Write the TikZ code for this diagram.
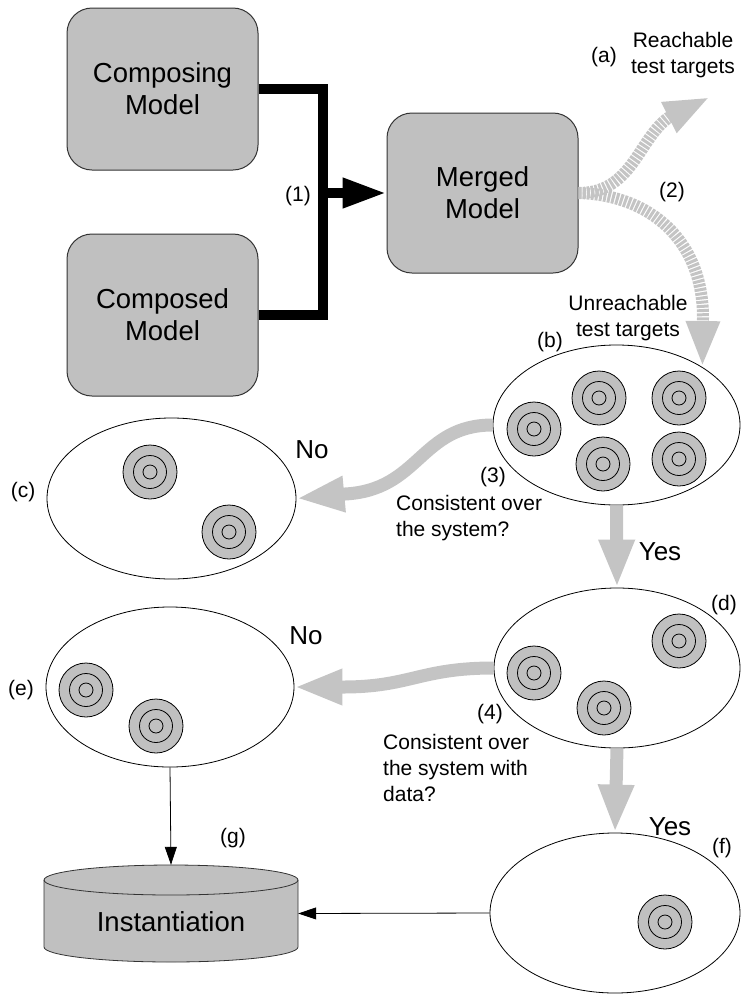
\documentclass[tikz,border=0pt]{standalone}
\usepackage{fontspec}
\setmainfont{Liberation Sans}
\usetikzlibrary{arrows.meta,shapes.geometric}
\definecolor{boxgray}{HTML}{C0C0C0}
\definecolor{arrowgray}{HTML}{C4C4C4}
\definecolor{outl}{HTML}{333333}
\begin{document}
\begin{tikzpicture}[x=1pt,y=-1pt,
  mbox/.style={draw=outl, line width=1pt, fill=boxgray, rounded corners=25pt,
    minimum width=191pt, minimum height=162pt, align=center,
    font=\fontsize{27.5}{32}\selectfont, inner sep=0pt},
  pool/.style={draw=black, line width=0.8pt, fill=white, ellipse, inner sep=0pt},
  lbl/.style={font=\fontsize{21}{26}\selectfont, inner sep=0pt},
  ans/.style={font=\fontsize{26}{30}\selectfont, inner sep=0pt},
  merge/.style={line width=10pt, black},
  gflow/.style={line width=13pt, arrowgray, -{Triangle[length=48pt,width=33pt]}},
  fork/.style={line width=12pt, arrowgray, dash pattern=on 3pt off 1.2pt,
    -{Triangle[length=46pt,width=31pt]}},
  feed/.style={line width=0.8pt, black, -{Triangle[length=18pt,width=12pt]}},
  target/.pic={
    \path[draw=black, line width=0.8pt, fill=boxgray] (0,0) circle[radius=27pt];
    \draw[line width=0.8pt] (0,0) circle[radius=16.5pt];
    \draw[line width=0.8pt] (0,0) circle[radius=7pt];
  }
]
\useasboundingbox (0,0) rectangle (740,994);

% boxes
\node[mbox] (composing) at (162.5,89) {Composing\\Model};
\node[mbox] (composed) at (162.5,315) {Composed\\Model};
\node[mbox, minimum height=160pt] (merged) at (482.5,193) {Merged\\Model};

% merging connector
\coordinate (j) at (323,193);
\draw[merge] (composing.east) -| (j) |- (composed.east);
\draw[merge, -{Triangle[length=44pt,width=28pt]}] (j) -- (merged.west);
\node[lbl] at (298,196) {(1)};

% sets
\node[pool, minimum width=247pt, minimum height=160pt] (b) at (616.5,425) {};
\node[pool, minimum width=249pt, minimum height=161pt] (c) at (171.5,498.5) {};
\node[pool, minimum width=246pt, minimum height=160pt] (d) at (617,668) {};
\node[pool, minimum width=248pt, minimum height=160pt] (e) at (170,687) {};
\node[pool, minimum width=250pt, minimum height=160pt] (f) at (615,913) {};

% targets
\foreach \p in {(534,429),(599,398),(679,398),(603,464),(679,459),
                (150,472),(229,532),
                (534,673),(604,708),(679,641),
                (86,690),(156,726),
                (665,922)}
  \pic at \p {target};

% split of the merged model
\coordinate (reach) at (710,97);
\draw[fork] (merged.east) .. controls (632,193) and (638,140) .. (668,118) -- (reach);
\draw[fork] (merged.east) .. controls (650,195) and (703,240) .. (703,318) -- (b.34);
\node[lbl] at (604,57) {(a)};
\node[lbl, align=center] at (683,55) {Reachable\\test targets};
\node[lbl] at (672,192) {(2)};
\node[lbl, align=center] at (628,318) {Unreachable\\test targets};
\node[lbl] at (550,342) {(b)};

% decision arrows
\draw[gflow] (b.west) .. controls (420,425) and (420,490) .. (345,494) -- (c.east);
\draw[gflow] (b.south) -- (d.north);
\draw[gflow] (d.west) .. controls (420,668) and (410,687) .. (343,687) -- (e.east);
\draw[gflow] (d.south) -- (f.north);

\node[ans] at (312,450) {No};
\node[lbl] at (23,492) {(c)};
\node[lbl] at (493,477) {(3)};
\node[lbl, align=left, anchor=west] at (396,518) {Consistent over\\the system?};
\node[ans] at (660,552) {Yes};
\node[lbl] at (724,605) {(d)};
\node[ans] at (306,636) {No};
\node[lbl] at (21,690) {(e)};
\node[lbl] at (490,714) {(4)};
\node[lbl, align=left, anchor=west] at (383,768) {Consistent over\\the system with\\data?};
\node[ans] at (670,827) {Yes};
\node[lbl] at (722,848) {(f)};

% instantiation cylinder
\path[draw=outl, line width=0.8pt, fill=boxgray]
  (44,880) -- (44,947)
  arc[start angle=180, end angle=360, x radius=127pt, y radius=15pt]
  -- (298,880)
  arc[start angle=0, end angle=180, x radius=127pt, y radius=15pt] -- cycle;
\draw[outl, line width=0.8pt] (44,880)
  arc[start angle=180, end angle=360, x radius=127pt, y radius=15pt];
\node[minimum width=254pt, minimum height=97pt, inner sep=0pt,
  label={[font=\fontsize{27.5}{32}\selectfont, yshift=-8.5pt]center:Instantiation}]
  (g) at (171,913.5) {};
\node[lbl] at (233,838) {(g)};

\draw[feed] (e.south) -- (g.north);
\draw[feed] (f.west) -- (g.east);
\end{tikzpicture}
\end{document}
